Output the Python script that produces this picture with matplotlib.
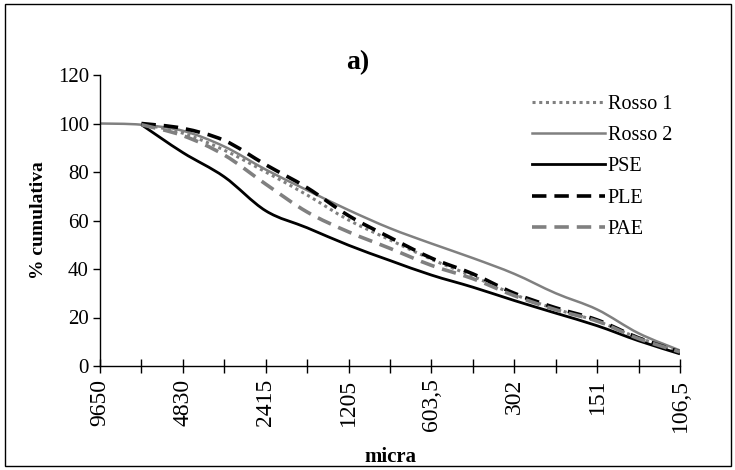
import numpy as np
import matplotlib
matplotlib.use("Agg")
import matplotlib.pyplot as plt
from matplotlib.path import Path
from matplotlib.patches import PathPatch, Rectangle
from matplotlib.lines import Line2D

plt.rcParams['font.family'] = ['Liberation Serif', 'DejaVu Serif']

categories = ["9650", "", "4830", "", "2415", "", "1205", "", "603,5", "", "302", "", "151", "", "106,5"]
nan = np.nan
rosso1 = [nan, 99.8, 96, 89, 80, 70.5, 60.2, 52, 44, 37, 29.5, 23.5, 18.5, 11.6, 6.0]
rosso2 = [100, 99.5, 97, 90.5, 81, 72.5, 64.3, 56.8, 50.5, 44.5, 38, 30.0, 23.3, 13.5, 6.4]
pse = [nan, 99.5, 88, 78, 64, 57, 49.8, 43.5, 37.5, 32.5, 27, 21.8, 16.6, 10.4, 5.0]
ple = [nan, 100, 98, 93, 83, 73.5, 62, 53, 44.5, 38, 30, 24, 19, 11.6, 5.8]
pae = [nan, 99.5, 95, 87, 75, 63.5, 55.3, 48.5, 41.5, 36, 29, 23.2, 18.5, 11.3, 5.8]
series_names = ["Rosso 1", "Rosso 2", "PSE", "PLE", "PAE"]
series_values = [rosso1, rosso2, pse, ple, pae]

GRAY = "#808080"
styles = [
    dict(color=GRAY, lw=2.2, ls=(0, (1.0, 1.2))),
    dict(color=GRAY, lw=1.8, ls="-"),
    dict(color="black", lw=2.0, ls="-"),
    dict(color="black", lw=2.6, ls=(0, (4, 2.2))),
    dict(color=GRAY, lw=2.6, ls=(0, (4, 2.2))),
]

fig = plt.figure(figsize=(7.35, 4.70), dpi=100)
ax = fig.add_axes([100/735, 1-366/470, 580/735, 291/470])


def smooth_path(xs, ys):
    pts = np.column_stack([xs, ys])
    n = len(pts)
    verts = [pts[0]]
    codes = [Path.MOVETO]
    for i in range(n - 1):
        p0 = pts[i - 1] if i > 0 else pts[i]
        p1 = pts[i]
        p2 = pts[i + 1]
        p3 = pts[i + 2] if i + 2 < n else pts[i + 1]
        c1 = p1 + (p2 - p0) / 6.0
        c2 = p2 - (p3 - p1) / 6.0
        verts += [c1, c2, p2]
        codes += [Path.CURVE4] * 3
    return Path(verts, codes)


x = np.arange(len(categories))
handles = []
for name, vals, st in zip(series_names, series_values, styles):
    v = np.array(vals, dtype=float)
    m = ~np.isnan(v)
    p = smooth_path(x[m].astype(float), v[m])
    patch = PathPatch(p, fill=False, edgecolor=st['color'], lw=st['lw'],
                      linestyle=st['ls'], capstyle='butt', joinstyle='round')
    ax.add_patch(patch)
    handles.append(Line2D([], [], color=st['color'], lw=st['lw'], linestyle=st['ls']))

ax.set_xlim(0, len(categories) - 1)
ax.set_ylim(0, 120)
ax.set_yticks(np.arange(0, 121, 20))
ax.set_xticks(x)
ax.set_xticklabels(categories, rotation=90, fontsize=17)
ax.tick_params(axis='y', labelsize=15, direction='out', length=5, width=1, pad=3)
ax.tick_params(axis='x', direction='inout', length=10, width=1, pad=4)
for s in ['top', 'right']:
    ax.spines[s].set_visible(False)
for s in ['left', 'bottom']:
    ax.spines[s].set_linewidth(1.0)

ax.set_xlabel("micra", fontsize=15, fontweight='bold', labelpad=11)
ax.set_ylabel("% cumulativa", fontsize=14, fontweight='bold', labelpad=8)
fig.text(358/735, 1-63/470, "a)", fontsize=20, fontweight='bold', ha='center', va='center')

leg = fig.legend(handles, series_names, loc='upper left', bbox_to_anchor=(532/735, 1-95/470),
                 frameon=False, fontsize=14.5, handlelength=3.6, handletextpad=0.15,
                 labelspacing=0.6, borderpad=0, borderaxespad=0)

fig.patches.append(Rectangle((5/735, 4/470), 726/735, 462/470, transform=fig.transFigure,
                             fill=False, edgecolor='black', lw=1.0))

fig.savefig("out.png", dpi=100)
